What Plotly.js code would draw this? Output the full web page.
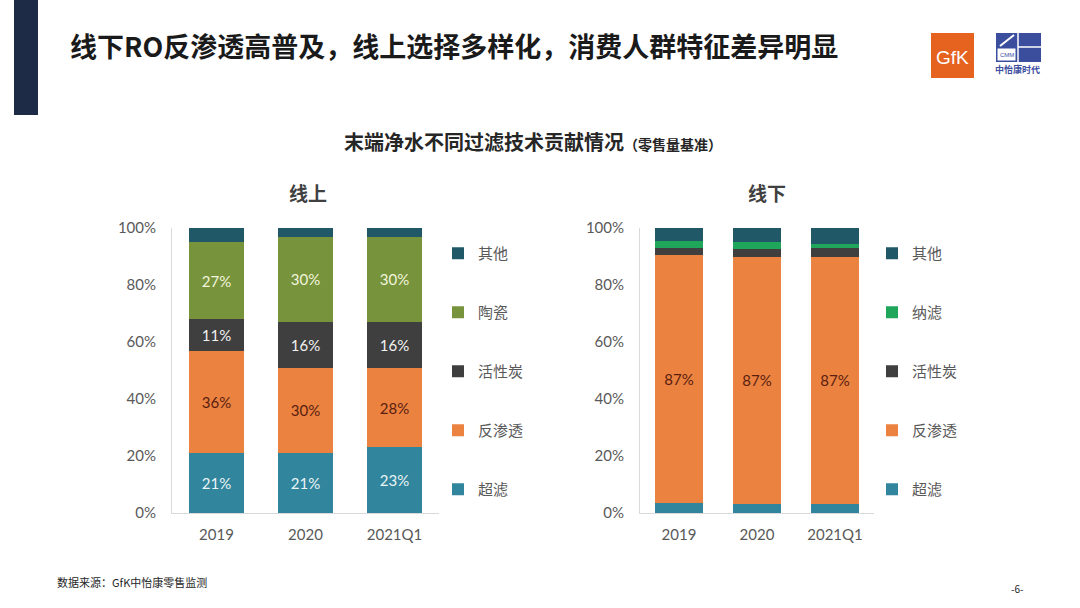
<!DOCTYPE html>
<html>
<head>
<meta charset="utf-8">
<script src="https://cdn.plot.ly/plotly-3.0.1.min.js"></script>
<style>
  html, body { margin: 0; padding: 0; background: #ffffff; }
  #chart { width: 1080px; height: 608px; }
</style>
</head>
<body>
<div id="chart"></div>
<script>
// ---------- Data ----------
const years = ['2019', '2020', '2021Q1'];

// 线上 (online), share of retail volume, %
const onlineUF    = [21, 21, 23];   // 超滤
const onlineRO    = [36, 30, 28];   // 反渗透
const onlineCarb  = [11, 16, 16];   // 活性炭
const onlineCer   = [27, 30, 30];   // 陶瓷
const onlineOther = [5, 3, 3];      // 其他

// 线下 (offline), share of retail volume, %
const offlineUF    = [3.5, 3, 3];     // 超滤
const offlineRO    = [87, 87, 87];    // 反渗透
const offlineCarb  = [2.5, 2.5, 3];   // 活性炭
const offlineNF    = [2.5, 2.5, 1.5]; // 纳滤
const offlineOther = [4.5, 5, 5.5];   // 其他

const yTicks = [0, 20, 40, 60, 80, 100];
const yTickText = ['0%', '20%', '40%', '60%', '80%', '100%'];

// ---------- Styles ----------
const C = {
  uf: '#31859C', ro: '#EB8240', carb: '#3F3F3F', cer: '#77933C',
  other: '#215868', nf: '#1FA65A'
};
const LAT = 'Lato, "Noto Sans CJK SC", sans-serif';
const CJK = '"Noto Sans CJK SC", "Noto Sans", sans-serif';

function lbl(arr, show) { return arr.map(v => show ? Math.round(v) + '%' : ''); }

function bar(name, y, color, xa, ya, lg, rank, showText, txtColor) {
  return {
    type: 'bar', name: name, x: years, y: y,
    xaxis: xa, yaxis: ya, legend: lg, legendgroup: lg + name, legendrank: rank,
    marker: { color: color, line: { width: 0 } },
    text: lbl(y, showText), textposition: 'inside', insidetextanchor: 'middle',
    textfont: { family: LAT, size: 15, color: txtColor },
    textangle: 0, constraintext: 'none',
    hoverinfo: 'skip'
  };
}

const data = [
  bar('超滤', onlineUF, C.uf, 'x', 'y', 'legend', 5, true, '#EAF4F6'),
  bar('反渗透', onlineRO, C.ro, 'x', 'y', 'legend', 4, true, '#5A1E10'),
  bar('活性炭', onlineCarb, C.carb, 'x', 'y', 'legend', 3, true, '#F2F2F2'),
  bar('陶瓷', onlineCer, C.cer, 'x', 'y', 'legend', 2, true, '#F2F5DC'),
  bar('其他', onlineOther, C.other, 'x', 'y', 'legend', 1, false, '#ffffff'),

  bar('超滤', offlineUF, C.uf, 'x2', 'y2', 'legend2', 5, false, '#ffffff'),
  bar('反渗透', offlineRO, C.ro, 'x2', 'y2', 'legend2', 4, true, '#5A1E10'),
  bar('活性炭', offlineCarb, C.carb, 'x2', 'y2', 'legend2', 3, false, '#ffffff'),
  bar('纳滤', offlineNF, C.nf, 'x2', 'y2', 'legend2', 2, false, '#ffffff'),
  bar('其他', offlineOther, C.other, 'x2', 'y2', 'legend2', 1, false, '#ffffff')
];

const W = 1080, H = 608;
const px = v => v / W;
const py = v => 1 - v / H;

function xax(d0, d1, anchor) {
  return {
    domain: [px(d0), px(d1)], anchor: anchor, type: 'category',
    showline: true, linecolor: '#D9D9D9', linewidth: 1,
    showgrid: false, zeroline: false, ticks: '', ticklabelstandoff: 8,
    tickfont: { family: LAT, size: 15, color: '#595959' }, fixedrange: true
  };
}
function yax(anchor) {
  return {
    domain: [py(513), py(228)], anchor: anchor, range: [0, 100],
    tickvals: yTicks, ticktext: yTickText,
    showline: true, linecolor: '#D9D9D9', linewidth: 1,
    showgrid: false, zeroline: false, ticks: '', ticklabelstandoff: 12,
    tickfont: { family: LAT, size: 15, color: '#595959' }, fixedrange: true
  };
}

function legendCfg(xLeft) {
  return {
    x: px(xLeft), xanchor: 'left', y: py(237), yanchor: 'top',
    traceorder: 'grouped', tracegroupgap: 36.5,
    font: { family: CJK, size: 15, color: '#595959' },
    bgcolor: 'rgba(0,0,0,0)', itemwidth: 30, itemclick: false, itemdoubleclick: false
  };
}

const layout = {
  width: W, height: H,
  margin: { l: 0, r: 0, t: 0, b: 0 },
  paper_bgcolor: '#ffffff', plot_bgcolor: '#ffffff',
  barmode: 'stack',
  bargap: 0.39,
  showlegend: true,
  xaxis: xax(172, 439, 'y'),
  yaxis: yax('x'),
  xaxis2: xax(640, 874, 'y2'),
  yaxis2: yax('x2'),
  legend: legendCfg(438),
  legend2: legendCfg(872),
  shapes: [
    // left navy bar
    { type: 'rect', xref: 'paper', yref: 'paper', x0: px(14), x1: px(38), y0: py(115), y1: py(0),
      fillcolor: '#1E2B47', line: { width: 0 } },
    // GfK logo box
    { type: 'rect', xref: 'paper', yref: 'paper', x0: px(931), x1: px(974), y0: py(78), y1: py(33),
      fillcolor: '#E5621F', line: { width: 0 } },
    // CMM logo
    { type: 'rect', xref: 'paper', yref: 'paper', x0: px(996), x1: px(1041), y0: py(62), y1: py(33),
      fillcolor: '#3B4E9E', line: { width: 0 } },
    { type: 'rect', xref: 'paper', yref: 'paper', x0: px(997), x1: px(1016), y0: py(61), y1: py(48),
      fillcolor: '#ffffff', line: { color: '#3B4E9E', width: 1 } },
    { type: 'line', xref: 'paper', yref: 'paper', x0: px(1018), x1: px(1018), y0: py(62), y1: py(33),
      line: { color: '#ffffff', width: 1.5 } },
    { type: 'line', xref: 'paper', yref: 'paper', x0: px(1018), x1: px(1041), y0: py(47), y1: py(47),
      line: { color: '#ffffff', width: 1.5 } },
    { type: 'line', xref: 'paper', yref: 'paper', x0: px(1000), x1: px(1014), y0: py(46), y1: py(35),
      line: { color: '#ffffff', width: 2 } }
  ],
  annotations: [
    { xref: 'paper', yref: 'paper', x: px(68), y: py(45), xanchor: 'left', yanchor: 'middle', showarrow: false,
      text: '<b>线下RO反渗透高普及，线上选择多样化，消费人群特征差异明显</b>',
      font: { family: CJK, size: 27, color: '#1A1A1A' } },
    { xref: 'paper', yref: 'paper', x: px(342), y: py(141), xanchor: 'left', yanchor: 'middle', showarrow: false,
      text: '<b>末端净水不同过滤技术贡献情况</b><b><span style="font-size:14px">（零售量基准）</span></b>',
      font: { family: CJK, size: 20, color: '#262626' } },
    { xref: 'paper', yref: 'paper', x: px(308), y: py(193), xanchor: 'center', yanchor: 'middle', showarrow: false,
      text: '<b>线上</b>', font: { family: CJK, size: 19, color: '#404040' } },
    { xref: 'paper', yref: 'paper', x: px(767), y: py(193), xanchor: 'center', yanchor: 'middle', showarrow: false,
      text: '<b>线下</b>', font: { family: CJK, size: 19, color: '#404040' } },
    { xref: 'paper', yref: 'paper', x: px(952.5), y: py(57), xanchor: 'center', yanchor: 'middle', showarrow: false,
      text: 'GfK', font: { family: 'Liberation Sans, sans-serif', size: 19, color: '#ffffff' } },
    { xref: 'paper', yref: 'paper', x: px(1006.5), y: py(55), xanchor: 'center', yanchor: 'middle', showarrow: false,
      text: 'CMM', font: { family: 'Liberation Sans, sans-serif', size: 6, color: '#3B4E9E' } },
    { xref: 'paper', yref: 'paper', x: px(1018), y: py(69), xanchor: 'center', yanchor: 'middle', showarrow: false,
      text: '<b>中怡康时代</b>', font: { family: CJK, size: 9, color: '#3B4E9E' } },
    { xref: 'paper', yref: 'paper', x: px(55), y: py(582), xanchor: 'left', yanchor: 'middle', showarrow: false,
      text: '数据来源：GfK中怡康零售监测', font: { family: CJK, size: 11, color: '#262626' } },
    { xref: 'paper', yref: 'paper', x: px(1017), y: py(588), xanchor: 'center', yanchor: 'middle', showarrow: false,
      text: '-6-', font: { family: CJK, size: 10, color: '#262626' } }
  ]
};

Plotly.newPlot('chart', data, layout, { displayModeBar: false, staticPlot: true });
</script>
</body>
</html>
